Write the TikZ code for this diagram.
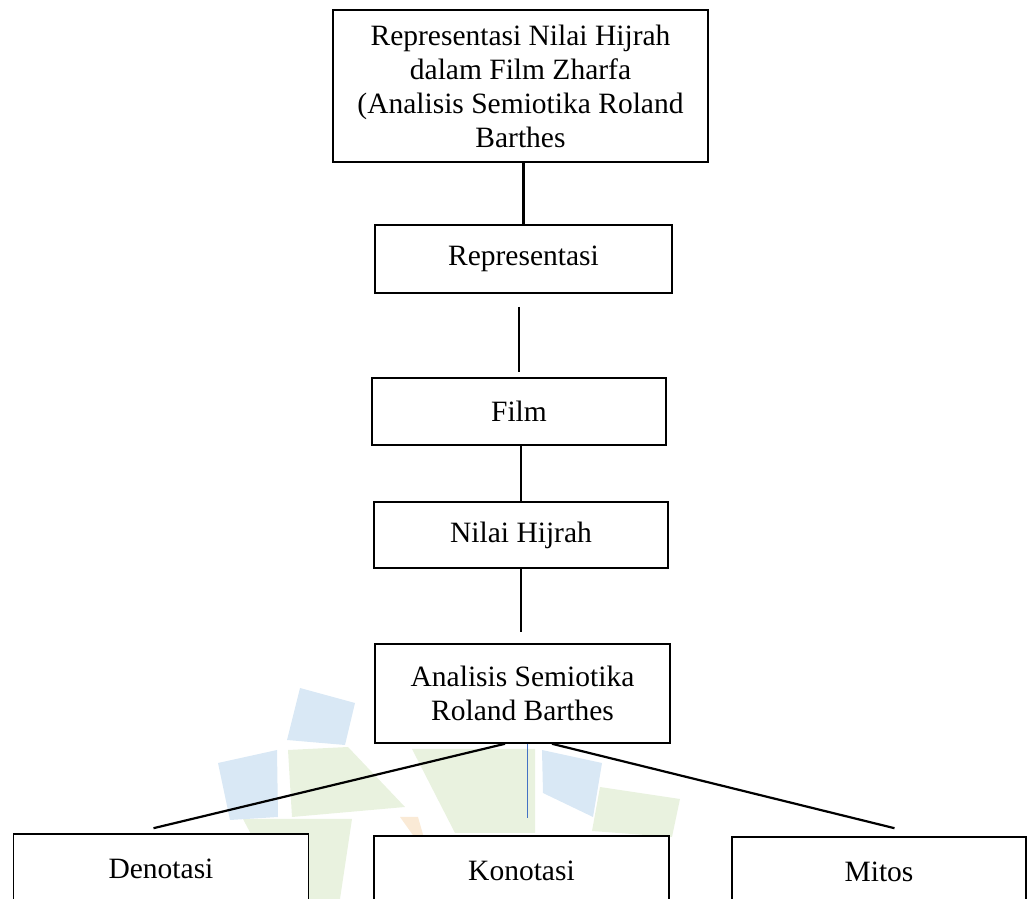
\documentclass[tikz,border=0pt]{standalone}
\usepackage{fontspec}
\setmainfont{Liberation Serif}
\usetikzlibrary{calc}

\definecolor{wmblue}{HTML}{D9E8F5}
\definecolor{wmgreen}{HTML}{E9F2DF}
\definecolor{wmorange}{HTML}{FAEAD6}
\definecolor{linkblue}{HTML}{4472C4}

\begin{document}
\begin{tikzpicture}[x=1pt,y=1pt,
  box/.style={draw, line width=1.6pt, fill=white, inner sep=0pt, align=center,
    font=\fontsize{29.5}{34}\selectfont},
  link/.style={line width=2.2pt}]
  \clip (0,0) rectangle (1029,899);
  \useasboundingbox (0,0) rectangle (1029,899);
  % faint logo behind the lower boxes
  \fill[wmgreen] (288,149) -- (348,152) -- (405,92) -- (292,82) -- cycle;
  \fill[wmgreen] (243,80) -- (352,80) -- (340,0) -- (285,0) -- cycle;
  \fill[wmgreen] (412,150) -- (535,150) -- (535,66) -- (455,66) -- cycle;
  \fill[wmgreen] (600,112) -- (680,100) -- (672,62) -- (592,68) -- cycle;
  \fill[wmorange] (400,82) -- (418,82) -- (430,40) -- cycle;
  \fill[wmblue] (300,211) -- (355,196) -- (345,154) -- (287,159) -- cycle;
  \fill[wmblue] (218,136) -- (277,149) -- (278,82) -- (230,79) -- cycle;
  \fill[wmblue] (542,149) -- (602,136) -- (593,82) -- (543,106) -- cycle;
  % column of boxes
  \node[box, minimum width=375, minimum height=152] (judul) at (520.5,813)
    {Representasi Nilai Hijrah\\dalam Film Zharfa\\(Analisis Semiotika Roland\\Barthes};
  \node[box, minimum width=297, minimum height=68] (rep) at (523.5,640) {Representasi};
  \node[box, minimum width=294, minimum height=67] (film) at (519,487.5) {Film};
  \node[box, minimum width=294, minimum height=66] (nilai) at (521,364) {Nilai Hijrah};
  \node[box, minimum width=295, minimum height=99] (ana) at (522.5,205.5)
    {Analisis Semiotika\\Roland Barthes};
  % bottom row
  \node[box, minimum width=295, minimum height=70] (den) at (161,30) {Denotasi};
  \node[box, minimum width=295, minimum height=70] (kon) at (521.5,28) {Konotasi};
  \node[box, minimum width=294, minimum height=70] (mit) at (879,27) {Mitos};
  % connectors
  \draw[link] (rep.north) -- (rep.north |- judul.south);
  \draw[link, shorten <=13pt, shorten >=5pt] (film.north |- rep.south) -- (film.north);
  \draw[link] (nilai.north |- film.south) -- (nilai.north);
  \draw[link, shorten >=11pt] (nilai.south) -- (nilai.south |- ana.north);
  \draw[link] ([xshift=-17.5pt]ana.south) -- ([xshift=-7.5pt,yshift=5pt]den.north);
  \draw[linkblue, line width=1.4pt, shorten >=17pt] ([xshift=5pt]ana.south) -- ([xshift=6pt]kon.north);
  \draw[link] ([xshift=29.5pt]ana.south) -- ([xshift=15.5pt,yshift=8pt]mit.north);
\end{tikzpicture}
\end{document}
